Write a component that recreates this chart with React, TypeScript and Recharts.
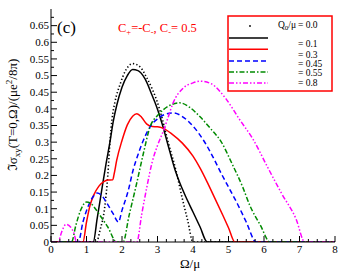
import React from 'react';
import { LineChart, Line, XAxis, YAxis } from 'recharts';

type P = { x: number; y: number };

// ---- data (Ω/μ, Im σxy) ----
const q00: P[] = [
  { x: 0, y: 0 }, { x: 1.28, y: 0 }, { x: 1.38, y: 0.035 }, { x: 1.52, y: 0.11 }, { x: 1.6, y: 0.2 },
  { x: 1.66, y: 0.3 }, { x: 1.72, y: 0.37 }, { x: 1.8, y: 0.42 }, { x: 1.95, y: 0.475 }, { x: 2.1, y: 0.515 },
  { x: 2.3, y: 0.536 }, { x: 2.5, y: 0.527 }, { x: 2.7, y: 0.493 }, { x: 2.85, y: 0.46 }, { x: 2.98, y: 0.425 },
  { x: 3.13, y: 0.372 }, { x: 3.3, y: 0.3 }, { x: 3.52, y: 0.215 }, { x: 3.7, y: 0.13 }, { x: 3.85, y: 0.065 },
  { x: 4.0, y: 0 }, { x: 8, y: 0 },
];
const q01: P[] = [
  { x: 0, y: 0 }, { x: 1.19, y: 0 }, { x: 1.3, y: 0.07 }, { x: 1.45, y: 0.17 }, { x: 1.55, y: 0.235 },
  { x: 1.66, y: 0.3 }, { x: 1.75, y: 0.36 }, { x: 1.85, y: 0.41 }, { x: 2.0, y: 0.465 }, { x: 2.15, y: 0.5 },
  { x: 2.3, y: 0.518 }, { x: 2.45, y: 0.515 }, { x: 2.65, y: 0.49 }, { x: 2.85, y: 0.44 }, { x: 2.98, y: 0.405 },
  { x: 3.13, y: 0.355 }, { x: 3.3, y: 0.29 }, { x: 3.5, y: 0.215 }, { x: 3.63, y: 0.177 }, { x: 3.8, y: 0.135 },
  { x: 4.0, y: 0.09 }, { x: 4.2, y: 0.045 }, { x: 4.4, y: 0 }, { x: 8, y: 0 },
];
const q03: P[] = [
  { x: 0, y: 0 }, { x: 0.9, y: 0 }, { x: 1.0, y: 0.06 }, { x: 1.1, y: 0.11 }, { x: 1.2, y: 0.14 },
  { x: 1.35, y: 0.168 }, { x: 1.5, y: 0.182 }, { x: 1.6, y: 0.186 }, { x: 1.74, y: 0.187 }, { x: 1.78, y: 0.205 },
  { x: 1.85, y: 0.245 }, { x: 2.0, y: 0.305 }, { x: 2.15, y: 0.352 }, { x: 2.3, y: 0.378 }, { x: 2.42, y: 0.385 },
  { x: 2.55, y: 0.375 }, { x: 2.7, y: 0.354 }, { x: 2.85, y: 0.347 }, { x: 3.0, y: 0.346 }, { x: 3.15, y: 0.342 },
  { x: 3.4, y: 0.325 }, { x: 3.7, y: 0.297 }, { x: 4.0, y: 0.258 }, { x: 4.2, y: 0.222 }, { x: 4.4, y: 0.18 },
  { x: 4.6, y: 0.135 }, { x: 4.85, y: 0.078 }, { x: 5.0, y: 0.043 }, { x: 5.18, y: 0 }, { x: 8, y: 0 },
];
const q045: P[] = [
  { x: 0, y: 0 }, { x: 0.77, y: 0 }, { x: 0.9, y: 0.06 }, { x: 1.05, y: 0.108 }, { x: 1.2, y: 0.138 },
  { x: 1.3, y: 0.147 }, { x: 1.45, y: 0.137 }, { x: 1.6, y: 0.112 }, { x: 1.75, y: 0.085 }, { x: 1.9, y: 0.06 },
  { x: 2.0, y: 0.095 }, { x: 2.18, y: 0.156 }, { x: 2.31, y: 0.215 }, { x: 2.45, y: 0.262 }, { x: 2.6, y: 0.305 },
  { x: 2.79, y: 0.346 }, { x: 3.0, y: 0.37 }, { x: 3.2, y: 0.383 }, { x: 3.44, y: 0.388 }, { x: 3.7, y: 0.377 },
  { x: 4.0, y: 0.348 }, { x: 4.3, y: 0.305 }, { x: 4.56, y: 0.256 }, { x: 4.8, y: 0.205 }, { x: 5.05, y: 0.155 },
  { x: 5.25, y: 0.115 }, { x: 5.5, y: 0.06 }, { x: 5.78, y: 0 }, { x: 8, y: 0 },
];
const q055: P[] = [
  { x: 0, y: 0 }, { x: 0.58, y: 0 }, { x: 0.7, y: 0.05 }, { x: 0.84, y: 0.097 }, { x: 1.0, y: 0.12 },
  { x: 1.12, y: 0.116 }, { x: 1.25, y: 0.1 }, { x: 1.38, y: 0.08 }, { x: 1.6, y: 0.045 }, { x: 1.85, y: 0 },
  { x: 2.03, y: 0 }, { x: 2.2, y: 0.08 }, { x: 2.4, y: 0.17 }, { x: 2.6, y: 0.265 }, { x: 2.79, y: 0.346 },
  { x: 3.0, y: 0.38 }, { x: 3.16, y: 0.397 }, { x: 3.4, y: 0.413 }, { x: 3.63, y: 0.418 }, { x: 3.9, y: 0.405 },
  { x: 4.2, y: 0.376 }, { x: 4.5, y: 0.34 }, { x: 4.8, y: 0.3 }, { x: 5.1, y: 0.235 }, { x: 5.4, y: 0.165 },
  { x: 5.6, y: 0.11 }, { x: 5.9, y: 0.05 }, { x: 6.17, y: 0 }, { x: 8, y: 0 },
];
const q08: P[] = [
  { x: 0, y: 0 }, { x: 0.2, y: 0 }, { x: 0.3, y: 0.03 }, { x: 0.42, y: 0.053 }, { x: 0.55, y: 0.045 },
  { x: 0.65, y: 0.025 }, { x: 0.72, y: 0 }, { x: 2.42, y: 0 }, { x: 2.55, y: 0.08 }, { x: 2.7, y: 0.165 },
  { x: 2.85, y: 0.24 }, { x: 3.0, y: 0.29 }, { x: 3.16, y: 0.332 }, { x: 3.3, y: 0.375 }, { x: 3.44, y: 0.418 },
  { x: 3.72, y: 0.462 }, { x: 4.0, y: 0.478 }, { x: 4.2, y: 0.483 }, { x: 4.5, y: 0.476 }, { x: 4.93, y: 0.43 },
  { x: 5.3, y: 0.37 }, { x: 5.7, y: 0.307 }, { x: 6.1, y: 0.225 }, { x: 6.5, y: 0.145 }, { x: 6.9, y: 0.07 },
  { x: 7.15, y: 0 }, { x: 8, y: 0 },
];

const xMajorTicks = [0, 1, 2, 3, 4, 5, 6, 7, 8];
const yMajorTicks = [0, 0.05, 0.1, 0.15, 0.2, 0.25, 0.3, 0.35, 0.4, 0.45, 0.5, 0.55, 0.6, 0.65];
const legendLabels = ['0.0', '0.1', '0.3', '0.45', '0.55', '0.8'];

const xTicks = [...xMajorTicks, ...xMajorTicks.slice(0, -1).flatMap((v) => [v + 0.25, v + 0.5, v + 0.75])].sort((a, b) => a - b);
const yTicks = [...yMajorTicks, ...yMajorTicks.map((v) => v + 0.025)].sort((a, b) => a - b);

const series = [
  { key: 'q00', data: q00, color: '#000000', dash: '1.3 2.2', width: 1.6 },
  { key: 'q01', data: q01, color: '#000000', dash: undefined, width: 1.5 },
  { key: 'q03', data: q03, color: '#ff0000', dash: undefined, width: 1.5 },
  { key: 'q045', data: q045, color: '#0000ff', dash: '5 3', width: 1.5 },
  { key: 'q055', data: q055, color: '#008a00', dash: '5 2 1.5 2', width: 1.5 },
  { key: 'q08', data: q08, color: '#ff00ff', dash: '5 2 1.5 2 1.5 2', width: 1.5 },
];

// ---- layout ----
const W = 346, H = 277;
const M = { top: 9, right: 11, bottom: 0, left: 0 };
const YW = 51, XH = 35;
const PL = M.left + YW, PR = W - M.right, PT = M.top, PB = H - M.bottom - XH;
const FONT = '"Liberation Serif", "DejaVu Serif", serif';

const isMajorX = (v: number) => Math.abs(v - Math.round(v)) < 1e-6;
const isMajorY = (v: number) => Math.abs(v * 20 - Math.round(v * 20)) < 1e-6;
const fmtY = (v: number) => (v === 0 ? '0' : String(parseFloat(v.toFixed(3))));

const BottomTick = (p: any) => {
  const v = p.payload.value;
  const maj = isMajorX(v);
  return (
    <g>
      <line x1={p.x} x2={p.x} y1={PB} y2={PB - (maj ? 6 : 3)} stroke="#000" strokeWidth={1} />
      {maj && (
        <text x={p.x} y={PB + 11} textAnchor="middle" fontSize={11} fontFamily={FONT} fill="#000">
          {v}
        </text>
      )}
    </g>
  );
};
const TopTick = (p: any) => {
  const maj = isMajorX(p.payload.value);
  return <line x1={p.x} x2={p.x} y1={PT} y2={PT + (maj ? 6 : 3)} stroke="#000" strokeWidth={1} />;
};
const LeftTick = (p: any) => {
  const v = p.payload.value;
  const maj = isMajorY(v);
  return (
    <g>
      <line x1={PL} x2={PL + (maj ? 6 : 3)} y1={p.y} y2={p.y} stroke="#000" strokeWidth={1} />
      {maj && (
        <text x={PL - 2} y={p.y + 3.8} textAnchor="end" fontSize={11} fontFamily={FONT} fill="#000">
          {fmtY(v)}
        </text>
      )}
    </g>
  );
};
const RightTick = (p: any) => {
  const maj = isMajorY(p.payload.value);
  return <line x1={PR} x2={PR - (maj ? 6 : 3)} y1={p.y} y2={p.y} stroke="#000" strokeWidth={1} />;
};

const legendLineY = [38, 49.3, 61, 72, 83];
const legendTextY = [27.5, 47.3, 57.5, 67, 76.4, 86.2];

export default function App() {
  return (
    <div style={{ position: 'absolute', left: 0, top: 0, width: W, height: H, background: '#fff' }}>
      <LineChart width={W} height={H} margin={M}>
        <XAxis
          xAxisId={0}
          dataKey="x"
          type="number"
          domain={[0, 8]}
          ticks={xTicks}
          interval={0}
          height={XH}
          tickLine={false}
          tick={<BottomTick />}
          axisLine={{ stroke: '#000', strokeWidth: 1 }}
          allowDataOverflow
        />
        <XAxis
          xAxisId="top"
          orientation="top"
          dataKey="x"
          type="number"
          domain={[0, 8]}
          ticks={xTicks}
          interval={0}
          height={0}
          tickLine={false}
          tick={<TopTick />}
          axisLine={{ stroke: '#000', strokeWidth: 1 }}
          allowDataOverflow
        />
        <YAxis
          yAxisId={0}
          type="number"
          domain={[0, 0.7]}
          ticks={yTicks}
          interval={0}
          width={YW}
          tickLine={false}
          tick={<LeftTick />}
          axisLine={{ stroke: '#000', strokeWidth: 1 }}
          allowDataOverflow
        />
        <YAxis
          yAxisId="right"
          orientation="right"
          type="number"
          domain={[0, 0.7]}
          ticks={yTicks}
          interval={0}
          width={0}
          tickLine={false}
          tick={<RightTick />}
          axisLine={{ stroke: '#000', strokeWidth: 1 }}
          allowDataOverflow
        />
        {series.map((s) => (
          <Line
            key={s.key}
            data={s.data}
            dataKey="y"
            type="monotone"
            stroke={s.color}
            strokeWidth={s.width}
            strokeDasharray={s.dash}
            dot={false}
            activeDot={false}
            isAnimationActive={false}
          />
        ))}
      </LineChart>
      <svg
        width={W}
        height={H}
        style={{ position: 'absolute', left: 0, top: 0, pointerEvents: 'none' }}
        fontFamily={FONT}
      >
        <text x={57} y={33} fontSize={17} fill="#000">(c)</text>
        <text x={118} y={31.5} fontSize={12.5} fill="#ff0000">
          C<tspan fontSize={8.5} dy={3}>+</tspan>
          <tspan dy={-3}>=-C</tspan>
          <tspan fontSize={8.5} dy={3}>-</tspan>
          <tspan dy={-3}>, C</tspan>
          <tspan fontSize={8.5} dy={3}>-</tspan>
          <tspan dy={-3}>= 0.5</tspan>
        </text>
        <rect x={228} y={16} width={104} height={75} fill="#fff" stroke="#ff0000" strokeWidth={1.5} />
        <circle cx={250} cy={26} r={0.9} fill="#000" />
        {series.slice(1).map((s, i) => (
          <line
            key={s.key}
            x1={229}
            x2={268}
            y1={legendLineY[i]}
            y2={legendLineY[i]}
            stroke={s.color}
            strokeWidth={s.width}
            strokeDasharray={s.dash}
          />
        ))}
        <text x={296} y={legendTextY[0]} fontSize={9.5} textAnchor="end" fill="#000">
          Q<tspan fontSize={7} dy={2.5}>0</tspan>
          <tspan dy={-2.5}>/μ</tspan>
        </text>
        {legendLabels.map((l, i) => (
          <text key={l} x={298} y={legendTextY[i]} fontSize={9.5} fill="#000">
            = {l}
          </text>
        ))}
        <text x={190} y={268} fontSize={13} textAnchor="middle" fill="#000">Ω/μ</text>
        <text x={0} y={0} fontSize={13} textAnchor="middle" fill="#000" transform="translate(17 115) rotate(-90)">
          ℑσ<tspan fontSize={9} dy={3}>xy</tspan>
          <tspan dy={-3}>(T=0,Ω)/(μe</tspan>
          <tspan fontSize={9} dy={-5}>2</tspan>
          <tspan dy={5}>/8π)</tspan>
        </text>
      </svg>
    </div>
  );
}
